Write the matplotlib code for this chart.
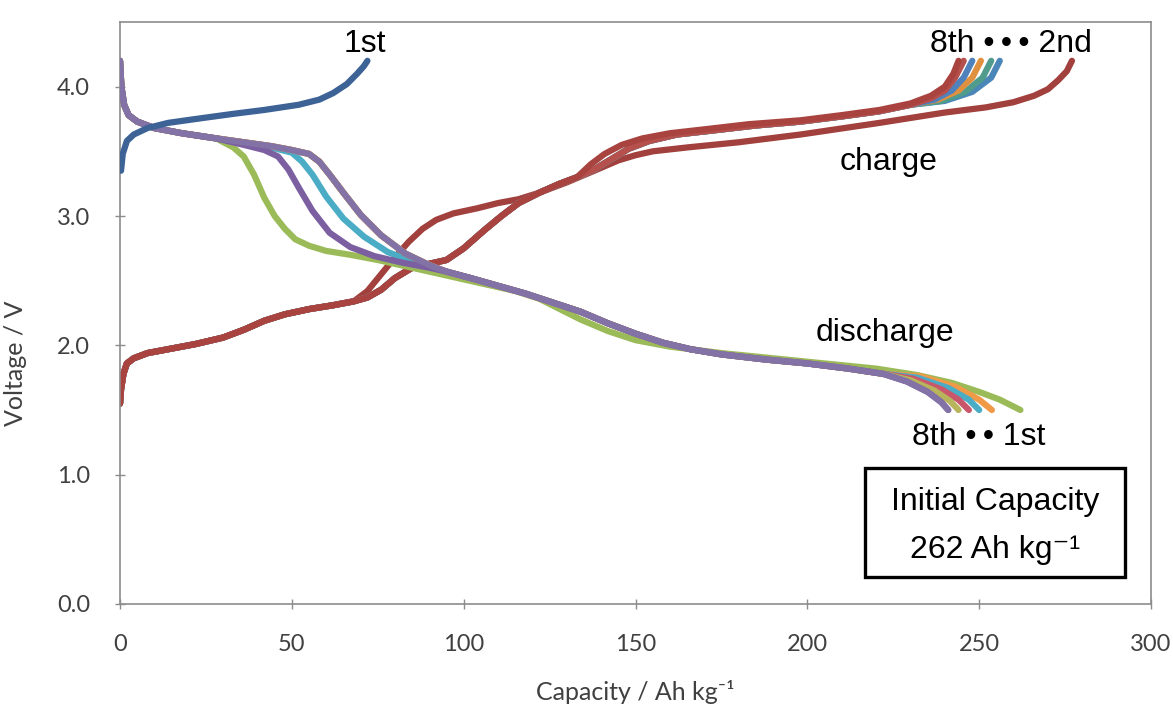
import matplotlib
matplotlib.use("Agg")
import matplotlib.pyplot as plt
from matplotlib.patches import Rectangle

# ---- data (capacity in Ah/kg, voltage in V) ----

# 1st charge (only to 72 Ah/kg)
c1_cap = [0.3, 0.8, 2, 4, 8, 14, 22, 33, 42, 52, 58, 62, 66, 69, 71, 72]
c1_v = [3.35, 3.48, 3.58, 3.63, 3.68, 3.72, 3.75, 3.79, 3.82, 3.86, 3.9, 3.95, 4.02, 4.1, 4.16, 4.2]

# charge curves 2nd-8th share the start
chg_head_cap = [0, 0.3, 1, 2, 4, 8, 14, 22, 30, 36, 42, 48, 55, 62, 68]
chg_head_v = [1.55, 1.66, 1.78, 1.86, 1.9, 1.94, 1.97, 2.01, 2.06, 2.12, 2.19, 2.24, 2.28, 2.31, 2.34]

# 2nd charge
c2_cap = [72, 76, 80, 84, 88, 92, 97, 104, 110, 116, 122, 130, 138, 145, 150, 155, 165,
          180, 198, 221, 240, 252, 260, 266, 270, 273, 275.5, 277]
c2_v = [2.42, 2.55, 2.68, 2.8, 2.9, 2.97, 3.02, 3.06, 3.1, 3.13, 3.18, 3.26, 3.35, 3.43, 3.47, 3.5, 3.53,
        3.57, 3.63, 3.72, 3.8, 3.84, 3.88, 3.93, 3.98, 4.05, 4.12, 4.2]

# 3rd-8th charge, middle part
chg_mid_cap = [72, 76, 80, 85, 90, 95, 100, 106, 111, 116, 122, 128, 133]
chg_mid_v = [2.37, 2.43, 2.52, 2.6, 2.63, 2.66, 2.75, 2.89, 3.0, 3.1, 3.18, 3.25, 3.3]

# 3rd-7th charge plateau
chg_plat_cap = [138, 143, 148, 154, 162, 172, 185, 198, 210, 221, 230]
chg_plat_v = [3.36, 3.44, 3.52, 3.58, 3.63, 3.66, 3.7, 3.73, 3.77, 3.81, 3.86]

c3_tail_cap = [240, 248, 253.5, 256]
c3_tail_v = [3.89, 3.96, 4.07, 4.2]
c4_tail_cap = [239, 246, 251, 253.5]
c4_tail_v = [3.89, 3.96, 4.07, 4.2]
c5_tail_cap = [238, 244, 248, 250.5]
c5_tail_v = [3.9, 3.97, 4.07, 4.2]
c6_tail_cap = [237, 242, 245.5, 248]
c6_tail_v = [3.9, 3.97, 4.07, 4.2]
c7_tail_cap = [236, 240, 243, 245.5]
c7_tail_v = [3.91, 3.97, 4.07, 4.2]

# 8th charge steps up a bit earlier
c8_rest_cap = [137, 141, 146, 152, 160, 170, 183, 198, 210, 221, 230, 236, 240, 242.5, 244]
c8_rest_v = [3.4, 3.48, 3.55, 3.6, 3.64, 3.67, 3.71, 3.74, 3.78, 3.82, 3.87, 3.93, 4.0, 4.1, 4.2]

# discharge curves share the start
dis_head_cap = [0, 0.4, 1.2, 2.5, 5, 10, 18, 28]
dis_head_v = [4.2, 4.0, 3.86, 3.78, 3.73, 3.68, 3.64, 3.6]

# 1st discharge
d1_cap = [33, 36, 39, 42, 45, 48, 51, 55, 60, 67, 75, 85, 95, 105, 115, 122, 128, 134, 142, 150,
          160, 175, 190, 205, 220, 232, 242, 250, 256, 262]
d1_v = [3.53, 3.46, 3.32, 3.14, 3.0, 2.9, 2.82, 2.77, 2.73, 2.7, 2.66, 2.6, 2.54, 2.48, 2.42, 2.36,
        2.28, 2.2, 2.11, 2.04, 1.99, 1.94, 1.9, 1.86, 1.82, 1.77, 1.71, 1.64, 1.58, 1.5]

# knees of the later discharges
knee_late_cap = [36, 44, 50, 55, 58, 61, 65, 70, 76, 83, 90]
knee_late_v = [3.57, 3.54, 3.51, 3.48, 3.42, 3.32, 3.18, 3.01, 2.85, 2.71, 2.62]
knee_d3_cap = [36, 44, 50, 53, 56, 60, 65, 71, 78, 85, 90]
knee_d3_v = [3.56, 3.53, 3.49, 3.42, 3.32, 3.15, 2.98, 2.84, 2.72, 2.65, 2.61]
knee_d6_cap = [36, 42, 46, 49, 52, 56, 61, 67, 74, 82, 90]
knee_d6_v = [3.55, 3.51, 3.46, 3.36, 3.22, 3.04, 2.87, 2.76, 2.69, 2.64, 2.6]

# shared body of 2nd-8th discharge
dis_body_cap = [95, 102, 110, 118, 126, 134, 142, 150, 158, 166, 175, 188, 200, 212, 222]
dis_body_v = [2.57, 2.52, 2.46, 2.4, 2.33, 2.26, 2.17, 2.09, 2.02, 1.97, 1.93, 1.89, 1.86, 1.82, 1.78]

d2_tail_cap = [233, 243, 250, 253.7]
d2_tail_v = [1.76, 1.68, 1.58, 1.5]
d3_tail_cap = [232, 241, 247, 250]
d3_tail_v = [1.75, 1.67, 1.58, 1.5]
d4_tail_cap = [231, 239, 244, 247]
d4_tail_v = [1.74, 1.66, 1.58, 1.5]
d5_tail_cap = [230, 237, 241.5, 244]
d5_tail_v = [1.73, 1.65, 1.57, 1.5]
d6_tail_cap = [229, 235, 239, 241]
d6_tail_v = [1.72, 1.64, 1.56, 1.5]

charges = [
    (chg_head_cap + c2_cap, chg_head_v + c2_v, "#a1403c"),
    (chg_head_cap + chg_mid_cap + chg_plat_cap + c3_tail_cap, chg_head_v + chg_mid_v + chg_plat_v + c3_tail_v, "#4a86b8"),
    (chg_head_cap + chg_mid_cap + chg_plat_cap + c4_tail_cap, chg_head_v + chg_mid_v + chg_plat_v + c4_tail_v, "#4f9c8c"),
    (chg_head_cap + chg_mid_cap + chg_plat_cap + c5_tail_cap, chg_head_v + chg_mid_v + chg_plat_v + c5_tail_v, "#e0913f"),
    (chg_head_cap + chg_mid_cap + chg_plat_cap + c6_tail_cap, chg_head_v + chg_mid_v + chg_plat_v + c6_tail_v, "#4f81bd"),
    (chg_head_cap + chg_mid_cap + chg_plat_cap + c7_tail_cap, chg_head_v + chg_mid_v + chg_plat_v + c7_tail_v, "#b5504c"),
    (chg_head_cap + chg_mid_cap + c8_rest_cap, chg_head_v + chg_mid_v + c8_rest_v, "#a8433f"),
]

discharges = [
    (dis_head_cap + d1_cap, dis_head_v + d1_v, "#9bbb59"),
    (dis_head_cap + knee_late_cap + dis_body_cap + d2_tail_cap, dis_head_v + knee_late_v + dis_body_v + d2_tail_v, "#f09a48"),
    (dis_head_cap + knee_d3_cap + dis_body_cap + d3_tail_cap, dis_head_v + knee_d3_v + dis_body_v + d3_tail_v, "#4bacc6"),
    (dis_head_cap + knee_late_cap + dis_body_cap + d4_tail_cap, dis_head_v + knee_late_v + dis_body_v + d4_tail_v, "#c9566a"),
    (dis_head_cap + knee_late_cap + dis_body_cap + d5_tail_cap, dis_head_v + knee_late_v + dis_body_v + d5_tail_v, "#b8b45c"),
    (dis_head_cap + knee_d6_cap + dis_body_cap + d6_tail_cap, dis_head_v + knee_d6_v + dis_body_v + d6_tail_v, "#7b5fa0"),
    (dis_head_cap + knee_late_cap + dis_body_cap + d6_tail_cap, dis_head_v + knee_late_v + dis_body_v + d6_tail_v, "#8272a6"),
]

x_ticks = [0, 50, 100, 150, 200, 250, 300]
y_ticks = [0, 1, 2, 3, 4]
y_tick_labels = ["0.0", "1.0", "2.0", "3.0", "4.0"]

# ---- drawing ----
fig = plt.figure(figsize=(11.73, 7.09), dpi=100)
ax = fig.add_axes([120 / 1173, 105 / 709, 1031 / 1173, 582 / 709])

lw = 4.5
for cap, v, col in charges:
    ax.plot(cap, v, color=col, lw=lw, solid_capstyle="round", solid_joinstyle="round", zorder=2)
for cap, v, col in discharges:
    ax.plot(cap, v, color=col, lw=lw, solid_capstyle="round", solid_joinstyle="round", zorder=3)
ax.plot(c1_cap, c1_v, color="#3c6296", lw=lw, solid_capstyle="round", zorder=4)

ax.set_xlim(0, 300)
ax.set_ylim(0, 4.5)
ax.set_xticks(x_ticks)
ax.set_yticks(y_ticks)
ax.set_yticklabels(y_tick_labels)

for s in ax.spines.values():
    s.set_color("#8c8c8c")
    s.set_linewidth(1.2)
ax.tick_params(direction="inout", length=7, width=1, color="#8c8c8c",
               labelsize=17, labelcolor="#404040", pad=18)
for lab in ax.get_xticklabels() + ax.get_yticklabels():
    lab.set_family("Lato")

ax.set_ylabel("Voltage / V", family="Lato", fontsize=18, color="#404040")
ax.yaxis.set_label_coords(-0.09, 0.414)
ax.set_xlabel("Capacity / Ah kg\u207b\u00b9", family=["Lato", "DejaVu Sans"], fontsize=18, color="#404040")
ax.xaxis.set_label_coords(0.5, -0.13)

txt = dict(family=["Liberation Sans", "DejaVu Sans"], fontsize=23, color="black")
ax.text(71.3, 4.265, "1st", ha="center", va="baseline", **txt)
ax.text(259.2, 4.27, "8th \u2022\u2009\u2022\u2009\u2022 2nd", ha="center", va="baseline", **txt)
ax.text(223.5, 3.356, "charge", ha="center", va="baseline", **txt)
ax.text(222.7, 2.03, "discharge", ha="center", va="baseline", **txt)
ax.text(250, 1.23, "8th \u2022\u2009\u2022 1st", ha="center", va="baseline", **txt)

ax.add_patch(Rectangle((0.7226, 0.047), 0.2522, 0.186, transform=ax.transAxes,
                       fill=True, facecolor="white", edgecolor="black", lw=2.4, zorder=5))
ax.text(254.6, 0.727, "Initial Capacity", ha="center", va="baseline", zorder=6, **txt)
ax.text(254.6, 0.356, "262 Ah kg\u207b\u00b9", ha="center", va="baseline", zorder=6, **txt)

fig.savefig("out.png", dpi=100)
